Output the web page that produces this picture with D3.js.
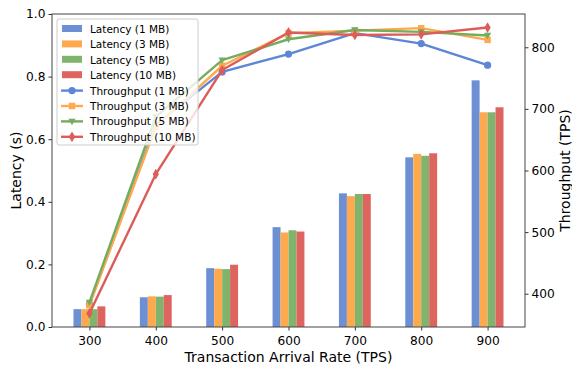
<!DOCTYPE html>
<html>
<head>
<meta charset="utf-8">
<script src="https://cdn.jsdelivr.net/npm/d3@7"></script>
<style>
  body { margin: 0; background: #fff; }
  svg { font-family: "DejaVu Sans", sans-serif; }
</style>
</head>
<body>
<div id="chart"></div>
<script>
var rates = ["300", "400", "500", "600", "700", "800", "900"];
var sizes = ["1 MB", "3 MB", "5 MB", "10 MB"];

var latency1 = [0.057, 0.095, 0.188, 0.319, 0.427, 0.542, 0.788];
var latency3 = [0.057, 0.098, 0.186, 0.302, 0.418, 0.553, 0.686];
var latency5 = [0.057, 0.097, 0.185, 0.309, 0.425, 0.547, 0.686];
var latency10 = [0.066, 0.102, 0.199, 0.305, 0.425, 0.555, 0.702];

var throughput1 = [383, 674, 760, 789, 823, 806, 771];
var throughput3 = [381, 671, 770, 823, 827, 831, 812];
var throughput5 = [386, 687, 779, 813, 828, 825, 819];
var throughput10 = [368, 594, 763, 824, 820, 821, 832];

var latencyTicks = [0, 0.2, 0.4, 0.6, 0.8, 1.0];
var throughputTicks = [400, 500, 600, 700, 800];

var barColors = ["#6d8fd3", "#ffa94f", "#80b46c", "#de6460"];
var lineColors = ["#5d86d6", "#ffa94f", "#74ad5e", "#dc5c58"];
var markers = [d3.symbolCircle, d3.symbolSquare, "tri", d3.symbolDiamond];

var latency = [latency1, latency3, latency5, latency10];
var throughput = [throughput1, throughput3, throughput5, throughput10];

var W = 572, H = 367;
var margin = {top: 14, right: 47, bottom: 40, left: 52};
var w = W - margin.left - margin.right, h = H - margin.top - margin.bottom;

var svg = d3.select("#chart").append("svg").attr("width", W).attr("height", H);
var g = svg.append("g").attr("transform", "translate(" + margin.left + "," + margin.top + ")");

var barW = 0.12;
var x = d3.scaleLinear().domain([-0.564, rates.length - 1 + 0.564]).range([0, w]);
var y = d3.scaleLinear().domain([0, 1]).range([h, 0]);
var y2 = d3.scaleLinear().domain([346, 854]).range([h, 0]);

function markerPath(m, size) {
  if (m === "tri") {
    var s = size;
    return "M" + (-s) + "," + (-s * 0.75) + "L" + s + "," + (-s * 0.75) + "L0," + (s * 1.05) + "Z";
  }
  return d3.symbol().type(m).size(size * size * (m === d3.symbolDiamond ? 2.6 : 3.2))();
}

// bars
latency.forEach(function(series, k) {
  g.selectAll(".bar" + k).data(series).enter().append("rect")
    .attr("x", function(d, i) { return x(i + (k - 2) * barW); })
    .attr("width", x(barW) - x(0))
    .attr("y", function(d) { return y(d); })
    .attr("height", function(d) { return h - y(d); })
    .attr("fill", barColors[k]);
});

// lines
var line = d3.line().x(function(d, i) { return x(i); }).y(function(d) { return y2(d); });
throughput.forEach(function(series, k) {
  g.append("path").datum(series)
    .attr("d", line)
    .attr("fill", "none")
    .attr("stroke", lineColors[k])
    .attr("stroke-width", 2.4)
    .attr("stroke-linejoin", "round");
  g.selectAll(".mk" + k).data(series).enter().append("path")
    .attr("transform", function(d, i) { return "translate(" + x(i) + "," + y2(d) + ")"; })
    .attr("d", markerPath(markers[k], 3.6))
    .attr("fill", lineColors[k]);
});

// axes
var xAxis = g.append("g").attr("transform", "translate(0," + h + ")")
  .call(d3.axisBottom(x).tickValues(d3.range(rates.length)).tickFormat(function(i) { return rates[i]; }).tickSize(3.5).tickSizeOuter(0));
var yAxis = g.append("g")
  .call(d3.axisLeft(y).tickValues(latencyTicks).tickFormat(d3.format(".1f")).tickSize(3.5).tickSizeOuter(0));
var yAxis2 = g.append("g").attr("transform", "translate(" + w + ",0)")
  .call(d3.axisRight(y2).tickValues(throughputTicks).tickSize(3.5).tickSizeOuter(0));

[xAxis, yAxis, yAxis2].forEach(function(a) {
  a.selectAll("text").attr("font-size", 12.2).attr("fill", "#000").attr("font-family", "DejaVu Sans");
  a.selectAll("line").attr("stroke", "#333");
  a.select(".domain").remove();
});
xAxis.selectAll("text").attr("dy", "0.92em");

g.append("rect").attr("width", w).attr("height", h)
  .attr("fill", "none").attr("stroke", "#444").attr("stroke-width", 1);

// axis labels
svg.append("text").attr("x", margin.left + w / 2).attr("y", 361.5)
  .attr("text-anchor", "middle").attr("font-size", 14).text("Transaction Arrival Rate (TPS)");
svg.append("text").attr("transform", "translate(21," + (margin.top + h / 2) + ") rotate(-90)")
  .attr("text-anchor", "middle").attr("font-size", 14).text("Latency (s)");
svg.append("text").attr("transform", "translate(570," + (margin.top + h / 2) + ") rotate(-90)")
  .attr("text-anchor", "middle").attr("font-size", 14).text("Throughput (TPS)");

// legend
var lg = g.append("g").attr("transform", "translate(5,5)");
lg.append("rect").attr("width", 141).attr("height", 126).attr("rx", 2)
  .attr("fill", "#fff").attr("fill-opacity", 0.8).attr("stroke", "#ccc");
sizes.forEach(function(s, k) {
  var yy = 10 + k * 15.4;
  lg.append("rect").attr("x", 5).attr("y", yy - 4).attr("width", 20).attr("height", 7).attr("fill", barColors[k]);
  lg.append("text").attr("x", 33).attr("y", yy + 4).attr("font-size", 10.5).text("Latency (" + s + ")");
});
sizes.forEach(function(s, k) {
  var yy = 10 + (k + 4) * 15.4;
  lg.append("line").attr("x1", 4).attr("x2", 26).attr("y1", yy).attr("y2", yy)
    .attr("stroke", lineColors[k]).attr("stroke-width", 2.4);
  lg.append("path").attr("transform", "translate(15," + yy + ")")
    .attr("d", markerPath(markers[k], 3.6)).attr("fill", lineColors[k]);
  lg.append("text").attr("x", 33).attr("y", yy + 4).attr("font-size", 10.5).text("Throughput (" + s + ")");
});
</script>
</body>
</html>
